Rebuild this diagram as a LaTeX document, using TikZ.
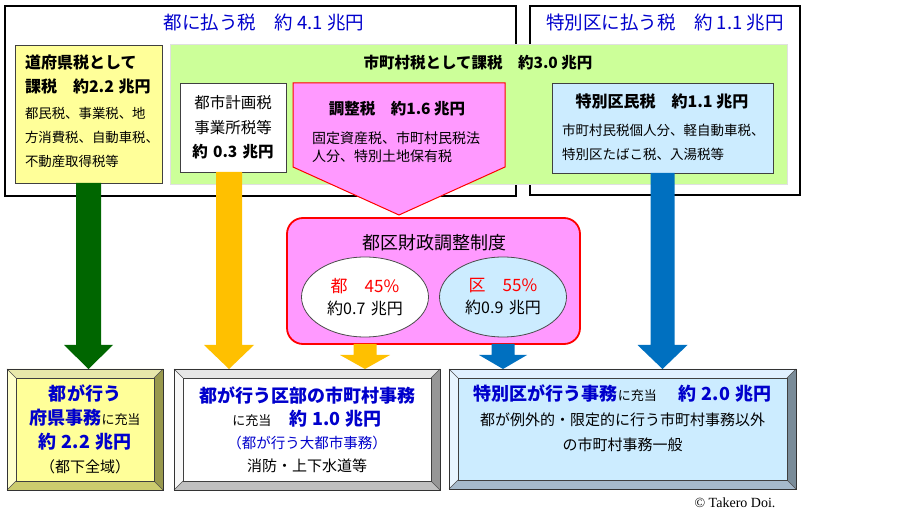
\documentclass[tikz,border=0pt]{standalone}
\usepackage{fontspec}
\setmainfont{Noto Sans CJK JP}
\newfontfamily\copyfont{Liberation Serif}
\usetikzlibrary{shapes.geometric}

\definecolor{titleblue}{RGB}{0,0,204}
\definecolor{paleyellow}{RGB}{255,255,153}
\definecolor{palegreen}{RGB}{204,255,153}
\definecolor{palepink}{RGB}{255,153,255}
\definecolor{paleblue}{RGB}{204,236,255}
\definecolor{arrowgreen}{RGB}{0,102,0}
\definecolor{arrowyellow}{RGB}{255,192,0}
\definecolor{arrowblue}{RGB}{0,112,192}
% bevel colours of the three bottom frames
\definecolor{ytop}{RGB}{232,232,170}
\definecolor{yleft}{RGB}{255,255,204}
\definecolor{yright}{RGB}{153,153,77}
\definecolor{ybottom}{RGB}{204,204,110}
\definecolor{wtop}{RGB}{230,230,230}
\definecolor{wleft}{RGB}{248,248,248}
\definecolor{wright}{RGB}{150,150,150}
\definecolor{wbottom}{RGB}{192,192,192}
\definecolor{btop}{RGB}{224,240,255}
\definecolor{bleft}{RGB}{232,245,255}
\definecolor{bright}{RGB}{122,140,153}
\definecolor{bbottom}{RGB}{166,186,204}

\newcommand{\bluehead}{\color{titleblue}\fontsize{18}{18}\selectfont\bfseries}
% node, top, left, right, bottom
\newcommand{\bevel}[5]{%
  \fill[#2] (#1.north west) -- (#1.north east) -- ([shift={(-9pt,-9pt)}]#1.north east) -- ([shift={(9pt,-9pt)}]#1.north west) -- cycle;
  \fill[#3] (#1.north west) -- ([shift={(9pt,-9pt)}]#1.north west) -- ([shift={(9pt,9pt)}]#1.south west) -- (#1.south west) -- cycle;
  \fill[#4] (#1.north east) -- ([shift={(-9pt,-9pt)}]#1.north east) -- ([shift={(-9pt,9pt)}]#1.south east) -- (#1.south east) -- cycle;
  \fill[#5] (#1.south west) -- ([shift={(9pt,9pt)}]#1.south west) -- ([shift={(-9pt,9pt)}]#1.south east) -- (#1.south east) -- cycle;
  \draw[black!70, line width=0.6pt] (#1.north west) -- ([shift={(9pt,-9pt)}]#1.north west)
    (#1.north east) -- ([shift={(-9pt,-9pt)}]#1.north east)
    (#1.south west) -- ([shift={(9pt,9pt)}]#1.south west)
    (#1.south east) -- ([shift={(-9pt,9pt)}]#1.south east);
  \draw[black!75, line width=0.7pt] ([shift={(9pt,-9pt)}]#1.north west) rectangle ([shift={(-9pt,9pt)}]#1.south east);
  \draw[black!80, line width=0.9pt] (#1.north west) rectangle (#1.south east);
}
% colour, from, to, shaft width, head width, head length
\newcommand{\blockarrow}[6]{%
  \fill[#1] ([xshift=-#4/2]#2) -- ([xshift=-#4/2, yshift=#6]#3) -- ([xshift=-#5/2, yshift=#6]#3) -- (#3)
    -- ([xshift=#5/2, yshift=#6]#3) -- ([xshift=#4/2, yshift=#6]#3) -- ([xshift=#4/2]#2) -- cycle;
}

\begin{document}
\begin{tikzpicture}[x=1pt, y=-1pt,
	every node/.style={inner sep=0pt, outer sep=0pt},
	outerbox/.style={draw=black, line width=1.5pt, fill=white},
	box/.style={draw=black!75, line width=0.8pt},
	frame/.style={fill=#1, minimum height=121pt},
	oval/.style={ellipse, draw=black!70, line width=0.8pt, minimum width=127pt, minimum height=80pt,
		text width=84pt, align=center, font=\fontsize{16}{22}\selectfont}]
\useasboundingbox (0,0) rectangle (897,518);

% taxes paid to Tokyo and to the wards
\node[outerbox, minimum width=511pt, minimum height=190pt] (tokyo) at (260.5,101) {};
\node[outerbox, minimum width=270pt, minimum height=189pt] (tokubetsu) at (665,100.5) {};
\node[text=titleblue, font=\fontsize{18.5}{18.5}\selectfont] (tokyotitle) at (264,23) {都に払う税　約 4.1 兆円};
\node[text=titleblue, font=\fontsize{18.5}{18.5}\selectfont] (tokubetsutitle) at (665,23) {特別区に払う税　約 1.1 兆円};

\node[fill=palegreen, draw=black!12, minimum width=617pt, minimum height=140pt] (shichoson) at (478.5,114) {};
\node[font=\fontsize{15.5}{15.5}\selectfont\bfseries] (shichosontitle) at (478,63) {市町村税として課税　約3.0 兆円};

\node[box, fill=paleyellow, minimum width=147pt, minimum height=138pt] (fuken) at (88.5,114) {};
\node[anchor=north west, text width=134pt, align=left, font=\fontsize{13.4}{24}\selectfont] (fukentext) at (25,55)
	{{\fontsize{16}{24}\selectfont\bfseries 道府県税として}\\{\fontsize{16}{24}\selectfont\bfseries 課税　約2.2 兆円}\\[2pt]
	都民税、事業税、地\\方消費税、自動車税、\\不動産取得税等};

\node[box, fill=white, minimum width=106pt, minimum height=89pt, text width=100pt, align=center,
	font=\fontsize{15.5}{24.5}\selectfont] (toshi) at (233,127.5)
	{都市計画税\\事業所税等\\{\bfseries 約 0.3 兆円}};

\draw[red, line width=1pt, fill=palepink] (293,83) -- (505,83) -- (505,167) -- (399,215) -- (293,167) -- cycle;
\node[font=\fontsize{15.5}{15.5}\selectfont\bfseries] (chouseititle) at (397,109) {調整税　約1.6 兆円};
\node[anchor=west, text width=185pt, align=left, font=\fontsize{14}{18}\selectfont] (chouseibody) at (312,147)
	{固定資産税、市町村民税法\\人分、特別土地保有税};

\node[box, fill=paleblue, minimum width=221pt, minimum height=90pt] (kumin) at (662.5,128) {};
\node[font=\fontsize{16}{16}\selectfont\bfseries] (kumintitle) at (662,101) {特別区民税　約1.1 兆円};
\node[anchor=west, text width=210pt, align=left, font=\fontsize{13.5}{24}\selectfont] (kuminbody) at (562,142)
	{市町村民税個人分、軽自動車税、\\特別区たばこ税、入湯税等};

% adjustment between Tokyo and the wards
\node[draw=red, line width=1.8pt, fill=palepink, rounded corners=16pt, minimum width=293pt, minimum height=126pt] (chosei) at (433.5,281) {};
\node[font=\fontsize{18}{18}\selectfont] (choseititle) at (434,243) {都区財政調整制度};
\node[oval, fill=white] (to) at (365,297) {{\fontsize{17}{22}\selectfont\color{red}都　45\%}\\約0.7 兆円};
\node[oval, fill=paleblue] (ku) at (503,297) {{\fontsize{17}{22}\selectfont\color{red}区　55\%}\\約0.9 兆円};

% what the money pays for
\node[frame=paleyellow, minimum width=156pt, text width=140pt, align=center, font=\fontsize{15}{24}\selectfont] (todo) at (85,429.5)
	{{\bluehead 都が行う}\\{\bluehead 府県事務}{\fontsize{13}{24}\selectfont に充当}\\{\bluehead 約 2.2 兆円}\\（都下全域）};
\bevel{todo}{ytop}{yleft}{yright}{ybottom}

\node[frame=white, minimum width=266pt, text width=248pt, align=center, font=\fontsize{15}{23}\selectfont] (kubu) at (307,429.5)
	{{\bluehead 都が行う区部の市町村事務}\\{\fontsize{13}{23}\selectfont に充当}\hspace{18pt}{\bluehead 約 1.0 兆円}\\
	{\color{titleblue}\fontsize{14.5}{23}\selectfont （都が行う大都市事務）}\\消防・上下水道等};
\bevel{kubu}{wtop}{wleft}{wright}{wbottom}

\node[frame=paleblue, minimum width=347pt, minimum height=120pt] (kujimu) at (622.5,429) {};
\bevel{kujimu}{btop}{bleft}{bright}{bbottom}
\node[text width=330pt, align=center, font=\fontsize{15}{25}\selectfont] (kujimutext) at (622.5,418)
	{{\bluehead 特別区が行う事務}{\fontsize{13}{25}\selectfont に充当}\hspace{22pt}{\bluehead 約 2.0 兆円}\\
	都が例外的・限定的に行う市町村事務以外\\の市町村事務一般};

% block arrows
\coordinate (greentip) at (fuken.south |- todo.north);
\coordinate (yellowtop) at ([xshift=-4pt]toshi.south);
\coordinate (yellowtip) at (yellowtop |- kubu.north);
\coordinate (bluetip) at (kumin.south |- kujimu.north);
\coordinate (totop) at (to |- chosei.south);
\coordinate (totip) at (to |- kubu.north);
\coordinate (kutop) at (ku |- chosei.south);
\coordinate (kutip) at (ku |- kujimu.north);
\blockarrow{arrowgreen}{fuken.south}{greentip}{25pt}{49pt}{24pt}
\blockarrow{arrowyellow}{yellowtop}{yellowtip}{26pt}{50pt}{24pt}
\blockarrow{arrowblue}{kumin.south}{bluetip}{24pt}{50pt}{24pt}
\blockarrow{arrowyellow}{totop}{totip}{23pt}{50pt}{14pt}
\blockarrow{arrowblue}{kutop}{kutip}{23pt}{48pt}{14pt}

\node[font=\copyfont\fontsize{14}{14}\selectfont] (copyright) at (735,503) {© Takero Doi.};
\end{tikzpicture}
\end{document}
